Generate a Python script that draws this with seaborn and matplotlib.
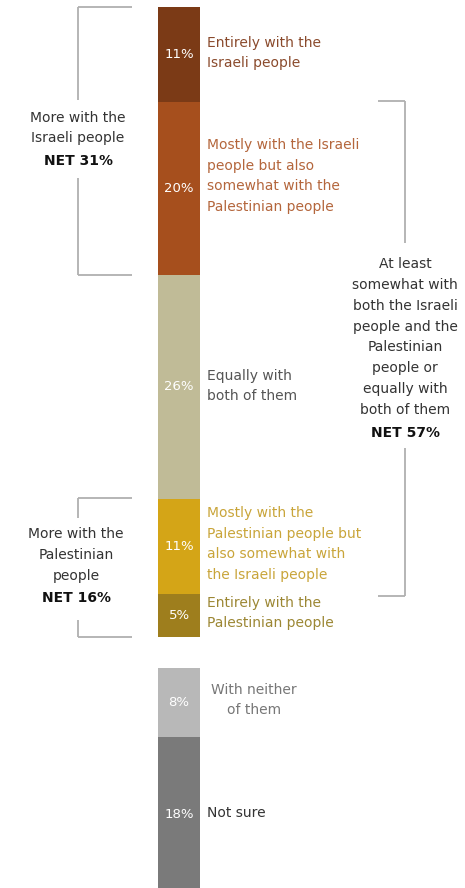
import matplotlib
matplotlib.use("Agg")
import matplotlib.pyplot as plt
import seaborn as sns

# data: segments of the stacked bar, top to bottom
labels = [
    "Entirely with the\nIsraeli people",
    "Mostly with the Israeli\npeople but also\nsomewhat with the\nPalestinian people",
    "Equally with\nboth of them",
    "Mostly with the\nPalestinian people but\nalso somewhat with\nthe Israeli people",
    "Entirely with the\nPalestinian people",
    "With neither\nof them",
    "Not sure",
]
values = [11, 20, 26, 11, 5, 8, 18]
group = [1, 1, 1, 1, 1, 2, 2]
net_labels = ["NET 31%", "NET 57%", "NET 16%"]

colors = ["#7b3a16", "#a64f1d", "#c0bb97", "#d4a517", "#9e7e1d", "#b8b8b8", "#7a7a7a"]
text_colors = ["#8a4a2c", "#b4663c", "#555555", "#c9a53a", "#9c8734", "#777777", "#333333"]

sns.set_style("white")
plt.rcParams["font.family"] = ["DejaVu Sans"]

fig = plt.figure(figsize=(4.65, 8.88), dpi=100)
ax = fig.add_axes([0, 0, 1, 1])

BAR_X = 179
BAR_W = 42
GAP = 3.6  # space between the two groups, in percent units

bottoms = []
cum = 0
for i, v in enumerate(values):
    if i > 0 and group[i] != group[i - 1]:
        cum += GAP
    bottoms.append(cum)
    cum += v

for v, b, c in zip(values, bottoms, colors):
    sns.barplot(x=[BAR_X], y=[v], bottom=b, native_scale=True, width=BAR_W,
                color=c, saturation=1, errorbar=None, linewidth=0, ax=ax)

# px -> percent: top of bar at 7 px, 8.63 px per percent
PX = 8.63
ax.set_xlim(0, 465)
ax.set_ylim((888 - 7) / PX, -7 / PX)
ax.set_axis_off()


def py(p):
    return (p - 7) / PX


fs = 10
ls = 1.62
# percentage labels inside the bar
for v, b in zip(values, bottoms):
    ax.text(BAR_X, b + v / 2, f"{v}%", ha="center", va="center",
            color="white", fontsize=fs - 0.5)

# category labels to the right
label_y = [53, 176, 386, 544, 613, 700, 813]
label_ha = ["left", "left", "left", "left", "left", "center", "left"]
for lab, y, tc, ha in zip(labels, label_y, text_colors, label_ha):
    x = 207 if ha == "left" else 254
    ax.text(x, py(y), lab, ha=ha, va="center", color=tc, fontsize=fs,
            linespacing=ls, multialignment="center" if ha == "center" else "left")

lc = "#b0b0b0"
lw = 1.3


def vline(x, y0, y1):
    ax.plot([x, x], [py(y0), py(y1)], color=lc, lw=lw, solid_capstyle="butt")


def hline(x0, x1, y):
    ax.plot([x0, x1], [py(y), py(y)], color=lc, lw=lw, solid_capstyle="butt")


# left bracket: Israeli
hline(78, 132, 7)
hline(78, 132, 275)
vline(78, 7, 100)
vline(78, 178, 275)
ax.text(78, py(128), "More with the\nIsraeli people", ha="center", va="center",
        color="#333333", fontsize=fs, linespacing=ls)
ax.text(78, py(161), net_labels[0], ha="center", va="center",
        color="#111111", fontsize=fs, fontweight="bold")

# right bracket: both
hline(378, 405, 101)
hline(378, 405, 596)
vline(405, 101, 243)
vline(405, 448, 596)
ax.text(405, py(337), "At least\nsomewhat with\nboth the Israeli\npeople and the\nPalestinian\npeople or\nequally with\nboth of them",
        ha="center", va="center", color="#333333", fontsize=fs, linespacing=ls)
ax.text(405, py(433), net_labels[1], ha="center", va="center",
        color="#111111", fontsize=fs, fontweight="bold")

# right-side bracket 3: Palestinian
hline(78, 132, 498)
hline(78, 132, 637)
vline(78, 498, 518)
vline(78, 620, 637)
ax.text(76, py(555), "More with the\nPalestinian\npeople", ha="center", va="center",
        color="#333333", fontsize=fs, linespacing=ls)
ax.text(76, py(598), net_labels[2], ha="center", va="center",
        color="#111111", fontsize=fs, fontweight="bold")

fig.savefig("out.png", dpi=100, facecolor="white")
